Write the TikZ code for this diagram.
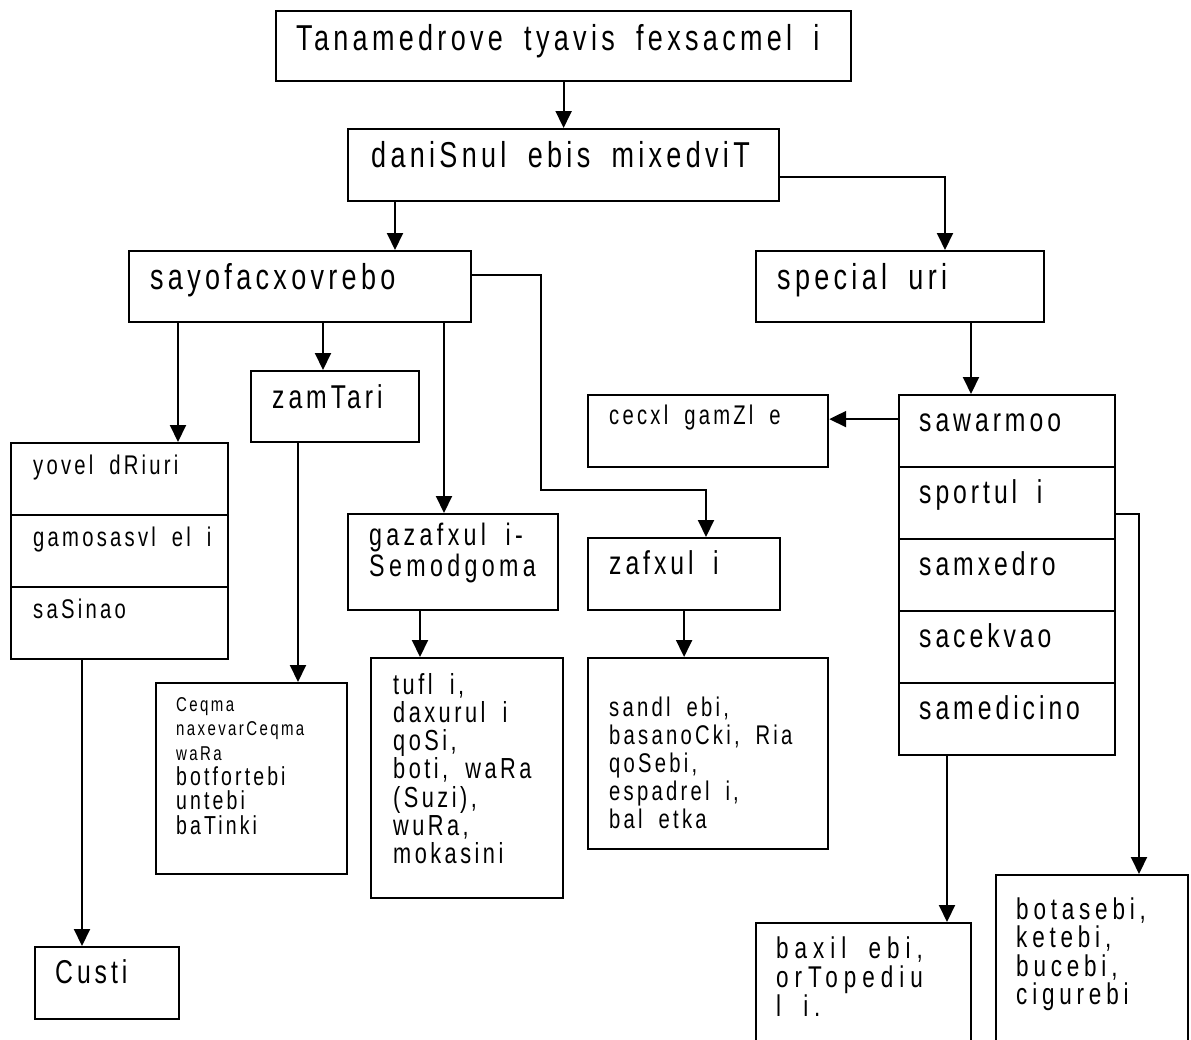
\documentclass[tikz,border=0pt]{standalone}
\usepackage{fontspec}
\setmainfont{Liberation Sans}[FakeStretch=0.75, LetterSpace=12, WordSpace=1.8]
\usetikzlibrary{arrows.meta}
\newcommand\textlines[6]{%
  \foreach \t [count=\i] in {#6} {\node[lbl,#5] (#1-\i) at ({#2},{#3+(\i-1)*#4}) {\t};}}
\tikzset{
  box/.style={draw, line width=2.2pt, inner sep=0pt, anchor=north west},
  arr/.style={line width=2pt, -{Triangle[length=17pt,width=16pt]}},
  lbl/.style={anchor=base west, inner sep=0pt},
  fbig/.style={font=\fontsize{36}{40}\selectfont},
  fmed/.style={font=\fontsize{33}{36}\selectfont},
  fmid/.style={font=\fontsize{29}{32}\selectfont},
  fsmall/.style={font=\fontsize{27}{30}\selectfont},
  fbot/.style={font={\fontsize{30}{32}\selectfont\addfontfeature{LetterSpace=16}}},
  fbax/.style={font={\fontsize{30}{32}\selectfont\addfontfeature{LetterSpace=20}}},
  fgaz/.style={font={\fontsize{31}{34}\selectfont\addfontfeature{LetterSpace=14}}},
  ftiny/.style={font=\fontsize{20}{24}\selectfont},
  fceq/.style={font=\fontsize{26}{28}\selectfont},
}
\begin{document}
\begin{tikzpicture}[x=1pt,y=-1pt]
\useasboundingbox (0,0) rectangle (1191,1039);
\fill[white] (0,0) rectangle (1191,1039);
\clip (0,0) rectangle (1191,1039);
% boxes
\node[box, minimum width=575pt, minimum height=70pt] (title) at (275,10) {};
\node[box, minimum width=431pt, minimum height=72pt] (dani) at (347,128) {};
\node[box, minimum width=342pt, minimum height=71pt] (sayo) at (128,250) {};
\node[box, minimum width=288pt, minimum height=71pt] (spec) at (755,250) {};
\node[box, minimum width=168pt, minimum height=71pt] (zam) at (250,370) {};
\node[box, minimum width=217pt, minimum height=72pt] (leftA) at (10,442) {};
\node[box, minimum width=217pt, minimum height=72pt] (leftB) at (10,514) {};
\node[box, minimum width=217pt, minimum height=72pt] (leftC) at (10,586) {};
\node[box, minimum width=240pt, minimum height=72pt] (cecxl) at (587,394) {};
\node[box, minimum width=216pt, minimum height=72pt] (saw1) at (898,394) {};
\node[box, minimum width=216pt, minimum height=72pt] (saw2) at (898,466) {};
\node[box, minimum width=216pt, minimum height=72pt] (saw3) at (898,538) {};
\node[box, minimum width=216pt, minimum height=72pt] (saw4) at (898,610) {};
\node[box, minimum width=216pt, minimum height=72pt] (saw5) at (898,682) {};
\node[box, minimum width=210pt, minimum height=96pt] (gaz) at (347,513) {};
\node[box, minimum width=192pt, minimum height=72pt] (zaf) at (587,537) {};
\node[box, minimum width=191pt, minimum height=191pt] (ceqma) at (155,682) {};
\node[box, minimum width=192pt, minimum height=240pt] (tufli) at (370,657) {};
\node[box, minimum width=240pt, minimum height=191pt] (sandl) at (587,657) {};
\node[box, minimum width=144pt, minimum height=72pt] (custi) at (34,946) {};
\node[box, minimum width=215pt, minimum height=150pt] (baxil) at (755,922) {};
\node[box, minimum width=192pt, minimum height=200pt] (botas) at (995,874) {};
% texts
\node[lbl, fbig] (title-t) at (296,50) {Tanamedrove tyavis fexsacmel i};
\node[lbl, fbig] (dani-t) at (371,167) {daniSnul ebis mixedviT};
\node[lbl, fbig] (sayo-t) at (150,289) {sayofacxovrebo};
\node[lbl, fbig] (spec-t) at (777,289) {special uri};
\node[lbl, fmed] (zam-t) at (272,408) {zamTari};
\node[lbl, fsmall] (leftA-t) at (33,474) {yovel dRiuri};
\node[lbl, fsmall] (leftB-t) at (33,546) {gamosasvl el i};
\node[lbl, fsmall] (leftC-t) at (33,618) {saSinao};
\node[lbl, fsmall] (cecxl-t) at (609,424) {cecxl gamZl e};
\node[lbl, fmed] (saw1-t) at (919,431) {sawarmoo};
\node[lbl, fmed] (saw2-t) at (919,503) {sportul i};
\node[lbl, fmed] (saw3-t) at (919,575) {samxedro};
\node[lbl, fmed] (saw4-t) at (919,647) {sacekvao};
\node[lbl, fmed] (saw5-t) at (919,719) {samedicino};
\textlines{gaz-t}{369}{545}{31}{fgaz}{gazafxul i-,Semodgoma}
\node[lbl, fmed] (zaf-t) at (609,574) {zafxul i};
\textlines{tufli-t}{393}{694}{28.3}{fmid}{{tufl i,},daxurul i,{qoSi,},{boti, waRa},{(Suzi),},{wuRa,},mokasini}
\textlines{sandl-t}{609}{716}{28}{fsmall}{{sandl ebi,},{basanoCki, Ria},{qoSebi,},{espadrel i,},bal etka}
\textlines{ceqa-t}{176}{711}{24.8}{ftiny}{Ceqma,naxevarCeqma,waRa}
\textlines{ceqb-t}{176}{785}{24.8}{fceq}{botfortebi,untebi,baTinki}
\node[lbl, fmed] (custi-t) at (55,983) {Custi};
\textlines{baxil-t}{776}{958}{29}{fbax}{{baxil ebi,},orTopediu,l i.}
\textlines{botas-t}{1016}{919}{28.5}{fbot}{{botasebi,},{ketebi,},{bucebi,},cigurebi}
% connectors
\draw[arr] (title.south) -- (dani.north);
\draw[arr] ([xshift=48pt]dani.south west) coordinate (p1) -- (p1 |- sayo.north);
\draw[arr] ([yshift=-12pt]dani.east) -| ([xshift=190pt]spec.north west);
\draw[arr] ([xshift=216pt]spec.south west) coordinate (p2) -- (p2 |- saw1.north);
\draw[arr] ([yshift=12pt]saw1.west) coordinate (p3) -- (p3 -| cecxl.east);
\draw[arr] ([xshift=50pt]sayo.south west) coordinate (p4) -- (p4 |- leftA.north);
\draw[arr] ([xshift=195pt]sayo.south west) coordinate (p5) -- (p5 |- zam.north);
\draw[arr] ([xshift=316pt]sayo.south west) coordinate (p6) -- (p6 |- gaz.north);
\coordinate (bend1) at (541,490);
\draw[arr] ([yshift=12pt]sayo.east) -| (bend1) -| ([xshift=119pt]zaf.north west);
\draw[arr] ([xshift=48pt]zam.south west) coordinate (p7) -- (p7 |- ceqma.north);
\draw[arr] ([xshift=73pt]gaz.south west) coordinate (p8) -- (p8 |- tufli.north);
\draw[arr] (zaf.south) -- (zaf.south |- sandl.north);
\draw[arr] ([xshift=72pt]leftC.south west) coordinate (p9) -- (p9 |- custi.north);
\draw[arr] ([xshift=49pt]saw5.south west) coordinate (p10) -- (p10 |- baxil.north);
\draw[arr] ([yshift=-11pt]saw2.east) -| ([xshift=144pt]botas.north west);
\end{tikzpicture}
\end{document}
